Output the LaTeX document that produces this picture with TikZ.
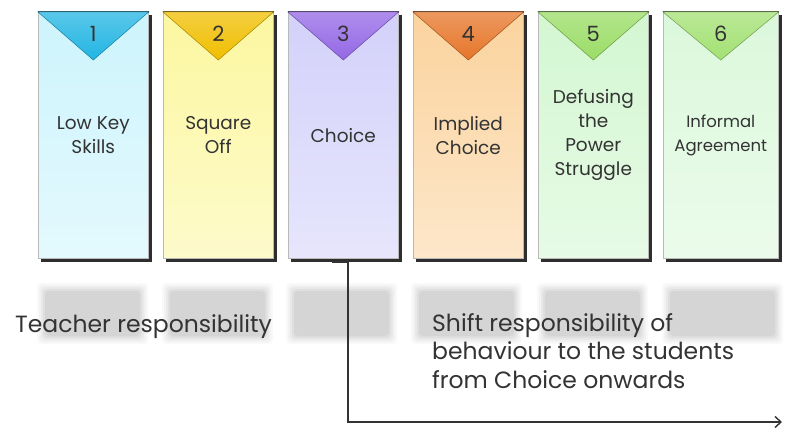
\documentclass[tikz,border=0pt]{standalone}
\usepackage{fontspec}
\setmainfont{Poppins}
\usetikzlibrary{arrows.meta,calc}
\definecolor{txt}{HTML}{333333}
\definecolor{fa}{HTML}{CDF4FC}\definecolor{ta}{HTML}{22B5E3}
\definecolor{fb}{HTML}{FCF7A0}\definecolor{tb}{HTML}{F0BE00}
\definecolor{fc}{HTML}{D3D1FA}\definecolor{tc}{HTML}{9468E6}
\definecolor{fd}{HTML}{FBD39E}\definecolor{td}{HTML}{E6762A}
\definecolor{fe}{HTML}{D3F7D1}\definecolor{te}{HTML}{9ADD66}
\definecolor{ff}{HTML}{DBF8DB}\definecolor{tf}{HTML}{A3E173}
\definecolor{blurgray}{HTML}{D4D4D4}
\tikzset{
  card/.style={draw=gray!55, line width=0.6pt, minimum height=246pt, inner sep=0pt,
    align=center, font=\fontsize{18.5}{24}\selectfont, text=txt, anchor=north west},
  numlabel/.style={font=\fontsize{21}{21}\selectfont, text=txt, inner sep=0pt},
  bigtext/.style={font=\fontsize{23.5}{28.5}\selectfont, text=txt, inner sep=0pt, align=left},
  connector/.style={draw=txt, line width=1.4pt},
  cardshadow/.style={fill=black!82},
}
\newcommand{\mkcard}[7]{%
  \node[card, minimum width=#3pt, top color=#4, bottom color=#4!55!white, #7] (#1) at (#2,12) {#6};
  \fill[cardshadow] ($(#1.north east)+(0,3)$) rectangle ($(#1.south east)+(3,3)$);
  \fill[cardshadow] ($(#1.south west)+(3,0)$) rectangle ($(#1.south east)+(3,3)$);
  \draw[black!75, line width=1.2pt] (#1.north west) -- (#1.north east);
  \path[top color=#5!75!white, bottom color=#5, draw=#5!70!black, line width=0.5pt]
    (#1.north west) -- (#1.north east) -- ($(#1.north)+(0,48)$) -- cycle;
}
\newcommand{\blurbox}[2]{%
  \foreach \d/\o in {7/0.12,5/0.18,3/0.28,1/0.45,-1/0.9}{
    \fill[blurgray, opacity=\o, rounded corners=4pt] (#1-\d,290-\d) rectangle (#2+\d,337+\d);
  }
}
\begin{document}
\begin{tikzpicture}[x=1pt,y=-1pt]
\useasboundingbox (0,0) rectangle (790,428);
\fill[white] (0,0) rectangle (790,428);
% blurred grey boxes
\blurbox{44}{141}
\blurbox{169}{266}
\blurbox{293}{390}
\blurbox{418}{515}
\blurbox{544}{641}
\blurbox{669}{776}
% cards
\mkcard{c1}{38}{110}{fa}{ta}{Low Key\\Skills}{}
\mkcard{c2}{163}{110}{fb}{tb}{Square\\Off}{}
\mkcard{c3}{288}{110}{fc}{tc}{Choice}{}
\mkcard{c4}{413}{110}{fd}{td}{Implied\\Choice}{}
\mkcard{c5}{538}{110}{fe}{te}{Defusing\\the\\Power\\Struggle}{}
\mkcard{c6}{663}{115}{ff}{tf}{Informal\\Agreement}{font=\fontsize{16.5}{24}\selectfont}
\node[numlabel] (n1) at ($(c1.north)+(0,22)$) {1};
\node[numlabel] (n2) at ($(c2.north)+(0,22)$) {2};
\node[numlabel] (n3) at ($(c3.north)+(0,22)$) {3};
\node[numlabel] (n4) at ($(c4.north)+(0,22)$) {4};
\node[numlabel] (n5) at ($(c5.north)+(0,22)$) {5};
\node[numlabel] (n6) at ($(c6.north)+(0,22)$) {6};
% texts
\node[bigtext, anchor=base west] (teach) at (15,332) {Teacher responsibility};
\node[bigtext, anchor=base west] (shift) at (432,388) {Shift responsibility of\\behaviour to the students\\from Choice onwards};
% connector
\coordinate (start) at (332,262);
\coordinate (corner) at (348,422);
\coordinate (end) at (782,422);
\draw[connector, -{Straight Barb[length=6pt,width=11pt,line width=1.4pt]}]
  (start) -| (corner) -- (end);
\end{tikzpicture}
\end{document}
